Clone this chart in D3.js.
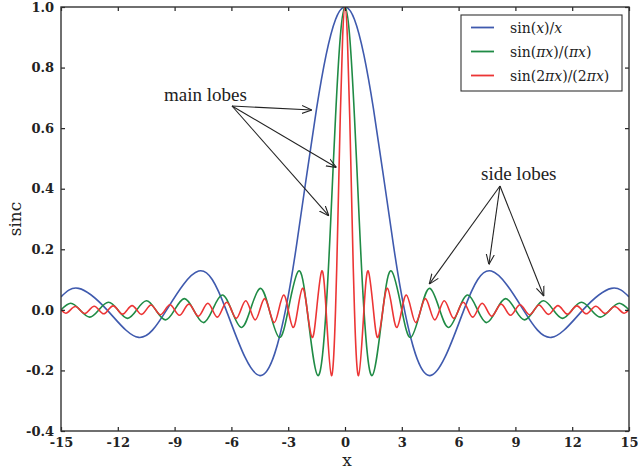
<!DOCTYPE html>
<html>
<head>
<meta charset="utf-8">
<script src="https://cdn.jsdelivr.net/npm/d3@7"></script>
<style>
  body { margin: 0; background: #fff; }
  svg { display: block; }
</style>
</head>
<body>
<div id="chartDiv"></div>
<script>
var width = 638;
var height = 472;
var margin = { top: 7, right: 9, bottom: 41, left: 61 };

var xTicks = [-15, -12, -9, -6, -3, 0, 3, 6, 9, 12, 15];
var xTickLabels = ["-15", "-12", "-9", "-6", "-3", "0", "3", "6", "9", "12", "15"];
var yTicks = [-0.4, -0.2, 0.0, 0.2, 0.4, 0.6, 0.8, 1.0];
var yTickLabels = ["-0.4", "-0.2", "0.0", "0.2", "0.4", "0.6", "0.8", "1.0"];

// values, right half (x >= 0); curves are mirrored about x = 0
var blueX = [0, 0.5, 1, 1.5, 2, 2.5, 3.14, 4.49, 6.28, 7.73, 9.42, 10.9, 12.57, 14.07, 15];
var blueY = [1, 0.959, 0.841, 0.665, 0.455, 0.239, 0, -0.217, 0, 0.128, 0, -0.091, 0, 0.071, 0.043];

var greenX = [0, 0.25, 0.5, 0.75, 1, 1.43, 2, 2.46, 3, 3.47, 4, 4.48, 5, 5.48, 6, 6.49, 7, 7.49,
              8, 8.49, 9, 9.49, 10, 10.49, 11, 11.49, 12, 12.49, 13, 13.49, 14, 14.49, 15];
var greenY = [1, 0.900, 0.637, 0.300, 0, -0.217, 0, 0.128, 0, -0.091, 0, 0.071, 0, -0.058, 0, 0.049, 0, -0.042,
              0, 0.037, 0, -0.033, 0, 0.030, 0, -0.028, 0, 0.025, 0, -0.024, 0, 0.022, 0];

var redX = [0, 0.125, 0.25, 0.375, 0.5, 0.715, 1, 1.23, 1.5, 1.735, 2, 2.24, 2.5, 2.74, 3, 3.24, 3.5, 3.74,
            4, 4.245, 4.5, 4.745, 5, 5.245, 5.5, 5.745, 6, 6.245, 6.5, 6.745, 7, 7.245, 7.5, 7.745,
            8, 8.245, 8.5, 8.745, 9, 9.245, 9.5, 9.745, 10, 10.245, 10.5, 10.745, 11, 11.245, 11.5, 11.745,
            12, 12.245, 12.5, 12.745, 13, 13.245, 13.5, 13.745, 14, 14.245, 14.5, 14.745, 15];
var redY = [1, 0.900, 0.637, 0.300, 0, -0.217, 0, 0.128, 0, -0.091, 0, 0.071, 0, -0.058, 0, 0.049, 0, -0.042,
            0, 0.037, 0, -0.033, 0, 0.030, 0, -0.028, 0, 0.025, 0, -0.024, 0, 0.022, 0, -0.021,
            0, 0.019, 0, -0.018, 0, 0.017, 0, -0.016, 0, 0.016, 0, -0.015, 0, 0.014, 0, -0.014,
            0, 0.013, 0, -0.013, 0, 0.012, 0, -0.012, 0, 0.011, 0, -0.011, 0];

var seriesNames = ["sin(x)/x", "sin(πx)/(πx)", "sin(2πx)/(2πx)"];
var seriesColors = ["#3f5aae", "#1f8b45", "#ec3535"];

var chartWidth = width - margin.left - margin.right;
var chartHeight = height - margin.top - margin.bottom;

var x = d3.scaleLinear().domain([-15, 15]).range([0, chartWidth]);
var y = d3.scaleLinear().domain([-0.4, 1.0]).range([chartHeight, 0]);

var chart = d3.select("#chartDiv").append("svg")
    .attr("width", width)
    .attr("height", height);

var plotArea = chart.append("g")
    .attr("transform", "translate(" + margin.left + "," + margin.top + ")");

chart.append("defs").append("clipPath").attr("id", "clip")
    .append("rect").attr("width", chartWidth).attr("height", chartHeight);

chart.append("defs").append("marker")
    .attr("id", "arrowHead")
    .attr("viewBox", "0 0 10 10")
    .attr("refX", 10).attr("refY", 5)
    .attr("markerWidth", 10).attr("markerHeight", 10)
    .attr("markerUnits", "userSpaceOnUse")
    .attr("orient", "auto")
    .append("path")
    .attr("d", "M0,1 L10,5 L0,9")
    .attr("fill", "none")
    .attr("stroke", "#222")
    .attr("stroke-width", 1.1);

function mirrored(xs, ys) {
    var pts = [];
    for (var i = xs.length - 1; i > 0; i--) pts.push([-xs[i], ys[i]]);
    for (var j = 0; j < xs.length; j++) pts.push([xs[j], ys[j]]);
    return pts;
}

var curves = [mirrored(blueX, blueY), mirrored(greenX, greenY), mirrored(redX, redY)];

var line = d3.line()
    .x(function(d) { return x(d[0]); })
    .y(function(d) { return y(d[1]); })
    .curve(d3.curveNatural);

plotArea.append("g").attr("clip-path", "url(#clip)")
    .selectAll(".curve")
    .data(curves)
    .enter().append("path")
    .attr("class", "curve")
    .attr("d", line)
    .attr("fill", "none")
    .attr("stroke", function(d, i) { return seriesColors[i]; })
    .attr("stroke-width", 1.6);

// axes with inward ticks on all four sides
var tickFont = "DejaVu Serif, serif";

var xAxis = d3.axisBottom(x).tickValues(xTicks).tickSizeInner(-4).tickSizeOuter(0).tickPadding(7)
    .tickFormat(function(d, i) { return xTickLabels[i]; });
plotArea.append("g")
    .attr("transform", "translate(0," + chartHeight + ")")
    .call(xAxis);

var yAxis = d3.axisLeft(y).tickValues(yTicks).tickSizeInner(-4).tickSizeOuter(0).tickPadding(7)
    .tickFormat(function(d, i) { return yTickLabels[i]; });
plotArea.append("g").call(yAxis);

plotArea.append("g").call(d3.axisTop(x).tickValues(xTicks).tickSizeInner(-4).tickSizeOuter(0).tickFormat(""));
plotArea.append("g").attr("transform", "translate(" + chartWidth + ",0)")
    .call(d3.axisRight(y).tickValues(yTicks).tickSizeInner(-4).tickSizeOuter(0).tickFormat(""));

plotArea.selectAll(".domain").remove();
plotArea.selectAll(".tick line").attr("stroke", "#222").attr("stroke-width", 1.2);
plotArea.selectAll(".tick text")
    .attr("font-family", tickFont)
    .attr("font-weight", "bold")
    .attr("font-size", "13px")
    .attr("fill", "#222");

plotArea.append("rect")
    .attr("width", chartWidth).attr("height", chartHeight)
    .attr("fill", "none")
    .attr("stroke", "#333")
    .attr("stroke-width", 1.4);

// axis titles
chart.append("text")
    .attr("x", margin.left + chartWidth / 2 + 2)
    .attr("y", 466)
    .attr("text-anchor", "middle")
    .attr("font-family", tickFont)
    .attr("font-size", "17px")
    .attr("fill", "#222")
    .text("x");

chart.append("text")
    .attr("transform", "translate(21,219) rotate(-90)")
    .attr("text-anchor", "middle")
    .attr("font-family", tickFont)
    .attr("font-size", "17px")
    .attr("fill", "#222")
    .text("sinc");

// legend
var legend = chart.append("g").attr("transform", "translate(461,15)");
legend.append("rect")
    .attr("width", 161).attr("height", 76)
    .attr("fill", "#fff")
    .attr("stroke", "#333")
    .attr("stroke-width", 1.1);

var legendParts = [
    [["sin(", "n"], ["x", "i"], [")/", "n"], ["x", "i"]],
    [["sin(", "n"], ["πx", "i"], [")/(", "n"], ["πx", "i"], [")", "n"]],
    [["sin(2", "n"], ["πx", "i"], [")/(2", "n"], ["πx", "i"], [")", "n"]]
];

seriesNames.forEach(function(name, i) {
    var row = legend.append("g").attr("transform", "translate(0," + (12.5 + i * 24) + ")");
    row.append("line")
        .attr("x1", 10).attr("x2", 33)
        .attr("stroke", seriesColors[i])
        .attr("stroke-width", 1.8);
    var t = row.append("text")
        .attr("x", 49).attr("y", 5)
        .attr("font-family", tickFont)
        .attr("font-size", "14px")
        .attr("fill", "#222");
    legendParts[i].forEach(function(p) {
        t.append("tspan").attr("font-style", p[1] === "i" ? "italic" : "normal").text(p[0]);
    });
});

// annotations
var annFont = "Liberation Serif, serif";
var annotations = [
    { label: "main lobes", tx: 164, ty: 101, from: [232, 106],
      to: [[-1.75, 0.66], [-0.45, 0.47], [-0.85, 0.31]] },
    { label: "side lobes", tx: 481, ty: 180, from: [500, 186],
      to: [[4.45, 0.085], [7.6, 0.15], [10.5, 0.045]] }
];

annotations.forEach(function(a) {
    chart.append("text")
        .attr("x", a.tx).attr("y", a.ty)
        .attr("font-family", annFont)
        .attr("font-size", "19px")
        .attr("fill", "#222")
        .text(a.label);
    a.to.forEach(function(p) {
        chart.append("line")
            .attr("x1", a.from[0]).attr("y1", a.from[1])
            .attr("x2", margin.left + x(p[0])).attr("y2", margin.top + y(p[1]))
            .attr("stroke", "#222")
            .attr("stroke-width", 1.1)
            .attr("marker-end", "url(#arrowHead)");
    });
});
</script>
</body>
</html>
